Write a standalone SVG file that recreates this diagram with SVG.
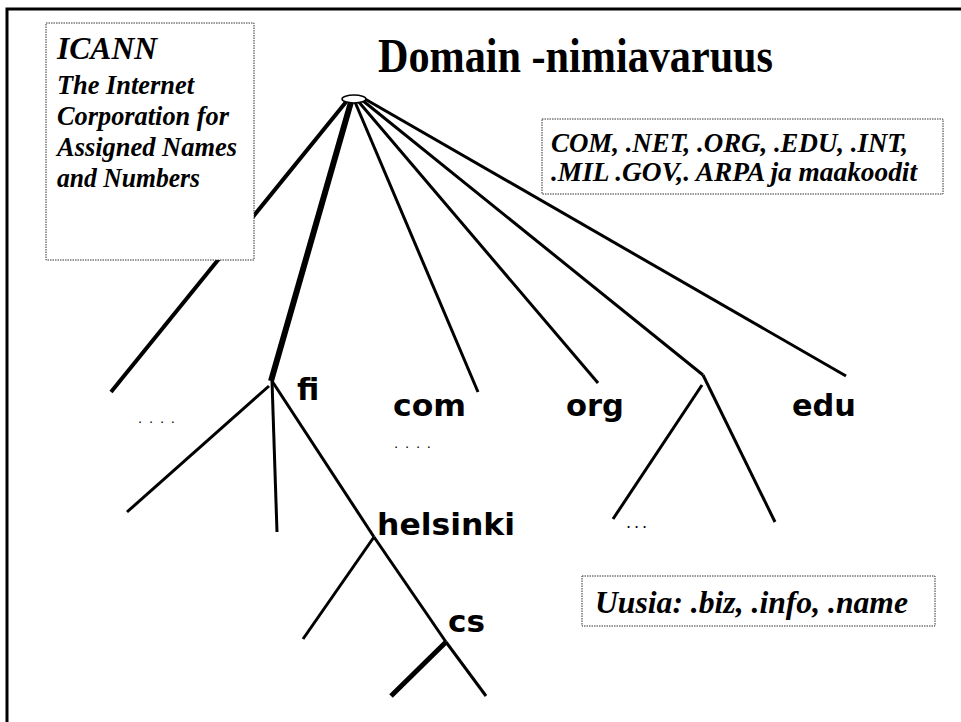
<svg xmlns="http://www.w3.org/2000/svg" width="961" height="722" viewBox="0 0 961 722">
<style>
.frame{stroke:#000;stroke-width:3;fill:none}
.box{fill:#fff;stroke:#333;stroke-width:1;stroke-dasharray:1.5 1}
.ser{font-family:"Liberation Serif","Times New Roman",serif;font-weight:bold;font-style:italic;fill:#000}
.title{font-family:"Liberation Serif","Times New Roman",serif;font-weight:bold;fill:#000}
.lbl{font-family:"DejaVu Sans",Verdana,sans-serif;font-weight:bold;font-size:30px;fill:#000}
.dots{font-family:"DejaVu Sans",Verdana,sans-serif;fill:#000}
.e{stroke:#000;stroke-width:3;fill:none;stroke-linecap:butt}
.e4{stroke-width:4}
.e6{stroke-width:6}
.e5{stroke-width:5}
</style>
<rect width="961" height="722" fill="#fff"/>
<path class="frame" d="M7,722 V9 H961"/>

<g id="connectors">
  <line class="e e4" x1="346" y1="102" x2="111" y2="392"/>
  <line class="e e6" x1="351" y1="102" x2="271" y2="381"/>
  <line class="e" x1="355" y1="102" x2="478" y2="392"/>
  <line class="e" x1="358" y1="101" x2="598" y2="383"/>
  <line class="e" x1="362" y1="100" x2="703" y2="375"/>
  <line class="e" x1="365" y1="99" x2="846" y2="376"/>
  <line class="e" x1="703" y1="375" x2="775" y2="522"/>
  <line class="e" x1="702" y1="385" x2="613" y2="519"/>
  <line class="e" x1="269" y1="386" x2="127" y2="512"/>
  <line class="e" x1="272" y1="381" x2="277" y2="532"/>
  <line class="e" x1="272" y1="381" x2="374" y2="537"/>
  <line class="e" x1="374" y1="537" x2="446" y2="642"/>
  <line class="e" x1="374" y1="537" x2="303" y2="639"/>
  <line class="e" x1="446" y1="642" x2="486" y2="696"/>
  <line class="e e5" x1="446" y1="642" x2="391" y2="696"/>
</g>

<g id="root">
  <ellipse cx="354" cy="99" rx="12" ry="4" fill="#fff" stroke="#000" stroke-width="1.5"/>
</g>

<g id="title">
  <text class="title" x="378" y="72" font-size="49" textLength="395" lengthAdjust="spacingAndGlyphs">Domain -nimiavaruus</text>
</g>

<g id="icann">
  <rect class="box" x="46" y="23" width="208" height="237"/>
  <text class="ser" x="57" y="59" font-size="32" textLength="100" lengthAdjust="spacingAndGlyphs">ICANN</text>
  <text class="ser" x="57" y="94" font-size="28" textLength="137" lengthAdjust="spacingAndGlyphs">The Internet</text>
  <text class="ser" x="57" y="125" font-size="28" textLength="172" lengthAdjust="spacingAndGlyphs">Corporation for</text>
  <text class="ser" x="57" y="156" font-size="28" textLength="180" lengthAdjust="spacingAndGlyphs">Assigned Names</text>
  <text class="ser" x="57" y="187" font-size="28" textLength="143" lengthAdjust="spacingAndGlyphs">and Numbers</text>
</g>

<g id="tlds">
  <rect class="box" x="542" y="119" width="401" height="75"/>
  <text class="ser" x="551" y="152" font-size="27" textLength="357" lengthAdjust="spacingAndGlyphs">COM, .NET, .ORG, .EDU, .INT,</text>
  <text class="ser" x="551" y="181" font-size="27" textLength="366" lengthAdjust="spacingAndGlyphs">.MIL .GOV,. ARPA ja maakoodit</text>
</g>

<g id="uusia">
  <rect class="box" x="582" y="576" width="353" height="50"/>
  <text class="ser" x="595" y="613" font-size="31" textLength="313" lengthAdjust="spacingAndGlyphs">Uusia: .biz, .info, .name</text>
</g>

<g id="fi"><text class="lbl" x="297" y="400">fi</text></g>
<g id="com"><text class="lbl" x="393" y="416" textLength="73" lengthAdjust="spacingAndGlyphs">com</text></g>
<g id="org"><text class="lbl" x="566" y="416" textLength="58" lengthAdjust="spacingAndGlyphs">org</text></g>
<g id="edu"><text class="lbl" x="792" y="416" textLength="64" lengthAdjust="spacingAndGlyphs">edu</text></g>
<g id="helsinki"><text class="lbl" x="377" y="535" textLength="138" lengthAdjust="spacingAndGlyphs">helsinki</text></g>
<g id="cs"><text class="lbl" x="448" y="632" textLength="37" lengthAdjust="spacingAndGlyphs">cs</text></g>

<g id="dots1"><text class="dots" x="138" y="423" font-size="13" textLength="37" lengthAdjust="spacing">....</text></g>
<g id="dots2"><text class="dots" x="394" y="448" font-size="13" textLength="37" lengthAdjust="spacing">....</text></g>
<g id="dots3"><text class="dots" x="626" y="528" font-size="16" textLength="21" lengthAdjust="spacing">...</text></g>
</svg>
